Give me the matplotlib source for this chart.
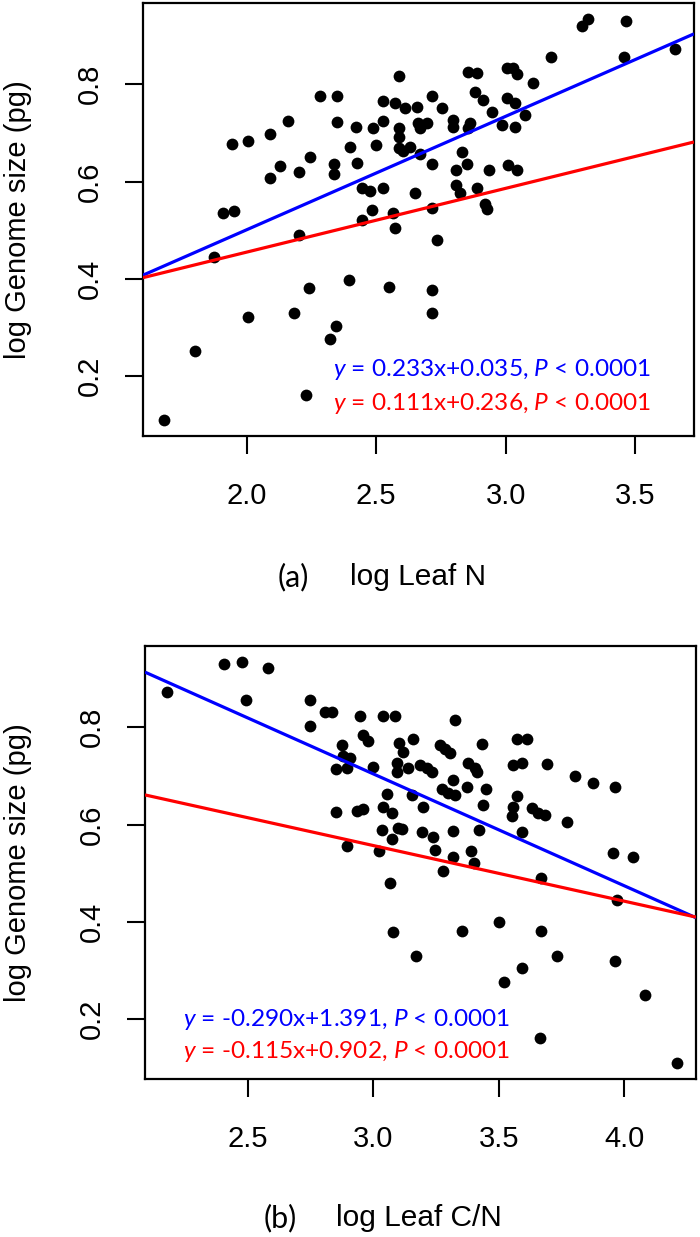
import matplotlib
matplotlib.use("Agg")
import matplotlib.pyplot as plt

# ---------------- data ----------------
# Panel (a): log Leaf N vs log Genome size
leafN = [2.588, 2.283, 2.350, 2.527, 2.573, 2.158, 2.350, 2.422, 2.489, 2.527,
         2.588, 1.944, 2.006, 2.091, 2.399, 2.499, 2.588, 2.588, 2.244, 2.128,
         2.202, 2.337, 2.337, 2.427, 2.091, 2.444, 2.476, 2.527, 2.483, 2.566,
         1.907, 1.951, 2.444, 1.874, 2.203, 2.573, 2.241, 2.396, 2.551, 2.003,
         2.182, 2.345, 2.321, 1.800, 2.229, 1.681, 3.320, 3.296, 3.465, 3.655,
         3.459, 3.174, 2.855, 2.889, 3.004, 3.030, 3.045, 3.107, 2.714, 2.882,
         2.914, 3.004, 3.036, 2.946, 3.075, 2.611, 2.659, 2.753, 2.663, 2.695,
         2.669, 2.798, 2.798, 2.862, 2.856, 2.985, 3.036, 2.631, 2.605, 2.669,
         2.830, 2.714, 2.852, 2.808, 2.937, 3.010, 3.043, 2.650, 2.808, 2.824,
         2.888, 2.920, 2.928, 2.714, 2.736, 2.714, 2.714]
genomeA = [0.816, 0.775, 0.775, 0.766, 0.762, 0.725, 0.723, 0.713, 0.710, 0.725,
           0.710, 0.677, 0.684, 0.697, 0.672, 0.675, 0.692, 0.669, 0.651, 0.631,
           0.619, 0.636, 0.616, 0.639, 0.607, 0.586, 0.581, 0.586, 0.542, 0.535,
           0.535, 0.540, 0.521, 0.445, 0.490, 0.504, 0.381, 0.398, 0.383, 0.321,
           0.329, 0.303, 0.276, 0.252, 0.162, 0.109, 0.934, 0.920, 0.930, 0.872,
           0.857, 0.857, 0.826, 0.824, 0.833, 0.833, 0.821, 0.802, 0.775, 0.785,
           0.768, 0.771, 0.762, 0.742, 0.736, 0.751, 0.754, 0.751, 0.720, 0.721,
           0.710, 0.727, 0.713, 0.720, 0.710, 0.717, 0.713, 0.672, 0.662, 0.657,
           0.660, 0.636, 0.636, 0.623, 0.623, 0.633, 0.623, 0.576, 0.593, 0.576,
           0.586, 0.554, 0.544, 0.545, 0.480, 0.377, 0.329]

# Panel (b): log Leaf C/N vs log Genome size
leafCN = [2.406, 2.477, 2.581, 2.176, 2.492, 2.747, 2.807, 2.836, 2.747, 2.946,
          3.037, 3.086, 2.959, 2.977, 2.873, 3.102, 2.880, 2.906, 2.851, 2.893,
          2.997, 3.092, 3.092, 3.055, 3.325, 3.119, 3.159, 3.265, 3.285, 3.305,
          3.431, 3.571, 3.610, 3.139, 3.185, 3.212, 3.232, 3.378, 3.404, 3.411,
          3.555, 3.590, 3.690, 3.803, 3.873, 3.962, 3.318, 3.272, 3.298, 3.325,
          3.374, 3.448, 3.571, 3.152, 3.037, 3.073, 2.851, 2.933, 2.959, 3.033,
          3.073, 3.096, 2.893, 3.023, 3.066, 3.079, 3.557, 3.551, 3.630, 3.657,
          3.683, 3.770, 3.198, 3.437, 3.112, 3.192, 3.238, 3.318, 3.422, 3.590,
          3.245, 3.318, 3.387, 3.400, 3.278, 3.666, 3.953, 4.033, 3.971, 3.501,
          3.351, 3.666, 3.169, 3.730, 3.962, 3.590, 3.520, 4.082, 3.662, 4.208]
genomeB = [0.930, 0.934, 0.921, 0.873, 0.856, 0.856, 0.832, 0.831, 0.803, 0.824,
           0.824, 0.824, 0.784, 0.771, 0.764, 0.768, 0.740, 0.736, 0.714, 0.716,
           0.719, 0.726, 0.709, 0.663, 0.815, 0.750, 0.776, 0.764, 0.755, 0.748,
           0.766, 0.776, 0.776, 0.716, 0.723, 0.716, 0.707, 0.727, 0.716, 0.707,
           0.723, 0.726, 0.725, 0.699, 0.685, 0.678, 0.692, 0.673, 0.665, 0.661,
           0.677, 0.673, 0.658, 0.661, 0.637, 0.623, 0.625, 0.627, 0.632, 0.588,
           0.570, 0.593, 0.555, 0.545, 0.480, 0.379, 0.637, 0.618, 0.634, 0.623,
           0.620, 0.606, 0.637, 0.640, 0.591, 0.584, 0.574, 0.586, 0.588, 0.584,
           0.547, 0.534, 0.545, 0.521, 0.505, 0.490, 0.542, 0.534, 0.444, 0.399,
           0.382, 0.382, 0.329, 0.329, 0.320, 0.305, 0.276, 0.250, 0.162, 0.109]

# fitted lines as drawn (slope, intercept)
fitA_all = (0.233, 0.035)
fitA_sub = (0.131, 0.193)
fitB_all = (-0.230, 1.394)
fitB_sub = (-0.1144, 0.900)

eqA = [r"$\mathit{y}$ = 0.233x+0.035, $\mathit{P}$ < 0.0001",
       r"$\mathit{y}$ = 0.111x+0.236, $\mathit{P}$ < 0.0001"]
eqB = [r"$\mathit{y}$ = -0.290x+1.391, $\mathit{P}$ < 0.0001",
       r"$\mathit{y}$ = -0.115x+0.902, $\mathit{P}$ < 0.0001"]

xticksA = [2.0, 2.5, 3.0, 3.5]
xticksB = [2.5, 3.0, 3.5, 4.0]
yticks = [0.2, 0.4, 0.6, 0.8]

# ---------------- styling ----------------
plt.rcParams['font.family'] = ['Liberation Sans', 'DejaVu Sans']
plt.rcParams['mathtext.fontset'] = 'custom'
plt.rcParams['mathtext.rm'] = 'Lato'
plt.rcParams['mathtext.it'] = 'Lato:italic'

W, H = 700, 1237
fig = plt.figure(figsize=(W / 100, H / 100), dpi=100)


def px_axes(l, r, t, b):
    return fig.add_axes([l / W, 1 - b / H, (r - l) / W, (b - t) / H])


def style(ax, xlim, ylim, xticks):
    ax.set_xlim(*xlim)
    ax.set_ylim(*ylim)
    ax.set_xticks(xticks)
    ax.set_xticklabels([f"{v:.1f}" for v in xticks])
    ax.set_yticks(yticks)
    ax.set_yticklabels([f"{v:.1f}" for v in yticks], rotation=90, va='center')
    for s in ax.spines.values():
        s.set_linewidth(1.6)
    ax.tick_params(axis='both', length=13, width=1.5, labelsize=21)
    ax.tick_params(axis='x', pad=20)
    ax.tick_params(axis='y', pad=15)


def panel(ax, x, y, fits, colors):
    ax.scatter(x, y, s=72, c='black', linewidths=0, zorder=3)
    x0, x1 = ax.get_xlim()
    for (m, b), c in zip(fits, colors):
        ax.plot([x0, x1], [m * x0 + b, m * x1 + b], color=c, lw=2.3, zorder=4,
                solid_capstyle='butt')


axA = px_axes(143, 694, 3, 436)
style(axA, (1.599, 3.728), (0.077, 0.967), xticksA)
panel(axA, leafN, genomeA, [fitA_all, fitA_sub], ['#0000ff', '#ff0000'])

axB = px_axes(145, 696, 646, 1079)
style(axB, (2.090, 4.285), (0.077, 0.967), xticksB)
panel(axB, leafCN, genomeB, [fitB_all, fitB_sub], ['#0000ff', '#ff0000'])

# equations
for (txt, c, ypx) in zip(eqA, ['#0000ff', '#ff0000'], [370, 403]):
    fig.text(333 / W, 1 - ypx / H, txt, color=c, fontsize=17.6, family='Lato',
             ha='left', va='center')
for (txt, c, ypx) in zip(eqB, ['#0000ff', '#ff0000'], [1019, 1051]):
    fig.text(183 / W, 1 - ypx / H, txt, color=c, fontsize=17.6, family='Lato',
             ha='left', va='center')

# y labels
for yc in [(3 + 436) / 2, (646 + 1079) / 2]:
    fig.text(18 / W, 1 - yc / H, "log Genome size (pg)", rotation=90,
             fontsize=21, ha='center', va='center')

# x labels
fig.text(293 / W, 1 - 577 / H, "(a)", fontsize=22, family='Lato',
         ha='center', va='center')
fig.text(350 / W, 1 - 577 / H, "log Leaf N", fontsize=21.5, ha='left', va='center')
fig.text(280 / W, 1 - 1218 / H, "(b)", fontsize=22, family='Lato',
         ha='center', va='center')
fig.text(336 / W, 1 - 1218 / H, "log Leaf C/N", fontsize=21.5, ha='left', va='center')

fig.savefig("out.png", dpi=100)
